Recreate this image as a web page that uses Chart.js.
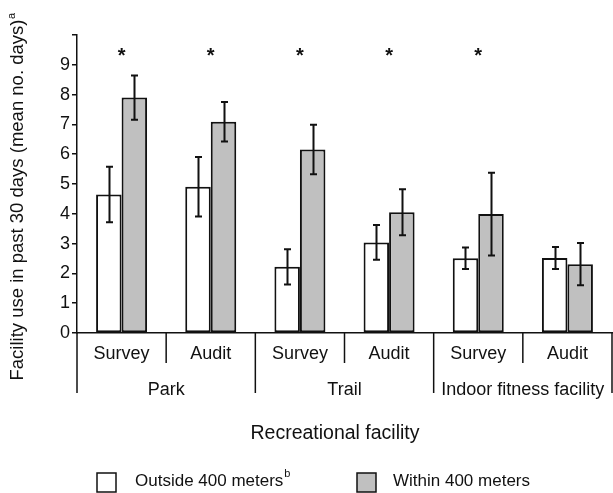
<!DOCTYPE html>
<html>
<head>
<meta charset="utf-8">
<script src="https://cdn.jsdelivr.net/npm/chart.js@4/dist/chart.umd.min.js"></script>
<style>
  html, body { margin: 0; padding: 0; background: #fff; }
  #wrap { width: 613px; height: 493px; position: relative; }
</style>
</head>
<body>
<div id="wrap"><canvas id="c" width="613" height="493"></canvas></div>
<script>
// ---- data ----
const categories = ['Survey', 'Audit', 'Survey', 'Audit', 'Survey', 'Audit'];
const groups = ['Park', 'Trail', 'Indoor fitness facility'];
const seriesNames = ['Outside 400 meters', 'Within 400 meters'];
const outsideValues = [4.65, 4.91, 2.22, 3.04, 2.51, 2.52];
const outsideErrors = [0.93, 1.00, 0.59, 0.58, 0.36, 0.37];
const withinValues = [7.90, 7.09, 6.16, 4.05, 3.99, 2.31];
const withinErrors = [0.74, 0.66, 0.83, 0.77, 1.39, 0.71];
const significant = [true, true, true, true, true, false];
const yTickValues = [0, 1, 2, 3, 4, 5, 6, 7, 8, 9, 10];
const yTickLabels = ['0', '1', '2', '3', '4', '5', '6', '7', '8', '9', ''];
const yTitle = 'Facility use in past 30 days (mean no. days)';
const xTitle = 'Recreational facility';

const FONT = '"Liberation Sans", Arial, sans-serif';
const INK = '#111';

const errorBars = {
  id: 'errorBars',
  afterDatasetsDraw(chart) {
    const ctx = chart.ctx;
    const y = chart.scales.y;
    const errs = [outsideErrors, withinErrors];
    const vals = [outsideValues, withinValues];
    ctx.save();
    ctx.strokeStyle = INK;
    ctx.lineWidth = 2;
    for (let d = 0; d < 2; d++) {
      const meta = chart.getDatasetMeta(d);
      meta.data.forEach((bar, i) => {
        const x = Math.round(bar.x) + 0.5;
        const yt = y.getPixelForValue(vals[d][i] + errs[d][i]);
        const yb = y.getPixelForValue(vals[d][i] - errs[d][i]);
        ctx.beginPath();
        ctx.moveTo(x, yt); ctx.lineTo(x, yb);
        ctx.moveTo(x - 3.5, yt); ctx.lineTo(x + 3.5, yt);
        ctx.moveTo(x - 3.5, yb); ctx.lineTo(x + 3.5, yb);
        ctx.stroke();
      });
    }
    ctx.restore();
  }
};

const decorations = {
  id: 'decorations',
  afterDraw(chart) {
    const ctx = chart.ctx;
    const xs = chart.scales.x;
    const ys = chart.scales.y;
    const area = chart.chartArea;
    const catW = (area.right - area.left) / categories.length;
    const base = ys.getPixelForValue(0);
    ctx.save();
    ctx.fillStyle = INK;
    ctx.strokeStyle = INK;
    ctx.lineWidth = 1.5;
    // separators below the axis
    for (let i = 0; i <= categories.length; i++) {
      const bx = area.left + i * catW;
      const long = (i % 2 === 0);
      ctx.beginPath();
      ctx.moveTo(bx, base);
      ctx.lineTo(bx, base + (long ? 60 : 30));
      ctx.stroke();
    }
    // category labels
    ctx.font = '18px ' + FONT;
    ctx.textAlign = 'center';
    ctx.textBaseline = 'middle';
    categories.forEach((c, i) => {
      ctx.fillText(c, xs.getPixelForValue(i), base + 21);
    });
    groups.forEach((g, k) => {
      const gx = area.left + (2 * k + 1) * catW;
      ctx.fillText(g, gx, base + 57);
    });
    // significance markers
    ctx.font = 'bold 20px ' + FONT;
    significant.forEach((s, i) => {
      if (s) ctx.fillText('*', xs.getPixelForValue(i), ys.getPixelForValue(9.42) + 4);
    });
    // x title
    ctx.font = '19.5px ' + FONT;
    ctx.fillText(xTitle, 335, base + 101);
    // y title (rotated) with superscript a
    ctx.save();
    ctx.translate(23, 197);
    ctx.rotate(-Math.PI / 2);
    ctx.font = '18.5px ' + FONT;
    const w1 = ctx.measureText(yTitle).width;
    ctx.font = '11px ' + FONT;
    const w2 = ctx.measureText('a').width;
    const start = -(w1 + w2) / 2;
    ctx.textAlign = 'left';
    ctx.textBaseline = 'alphabetic';
    ctx.font = '18.5px ' + FONT;
    ctx.fillText(yTitle, start, 0);
    ctx.font = '11px ' + FONT;
    ctx.fillText('a', start + w1 + 0.5, -8);
    ctx.restore();
    // legend
    const lg = [
      { x: 97, tx: 135, fill: '#ffffff', text: seriesNames[0], sup: 'b' },
      { x: 357, tx: 393, fill: '#c0c0c0', text: seriesNames[1], sup: '' }
    ];
    lg.forEach(l => {
      ctx.fillStyle = l.fill;
      ctx.fillRect(l.x, 473, 19, 19);
      ctx.lineWidth = 1.5;
      ctx.strokeStyle = INK;
      ctx.strokeRect(l.x, 473, 19, 19);
      ctx.fillStyle = INK;
      ctx.font = '17px ' + FONT;
      ctx.textAlign = 'left';
      ctx.textBaseline = 'middle';
      ctx.fillText(l.text, l.tx, 481);
      if (l.sup) {
        const tw = ctx.measureText(l.text).width;
        ctx.font = '11px ' + FONT;
        ctx.fillText(l.sup, l.tx + tw + 1, 474);
      }
    });
    ctx.restore();
  }
};

new Chart(document.getElementById('c'), {
  type: 'bar',
  data: {
    labels: categories,
    datasets: [
      { label: seriesNames[0], data: outsideValues, backgroundColor: '#ffffff', borderColor: INK, borderWidth: 2, borderSkipped: false },
      { label: seriesNames[1], data: withinValues, backgroundColor: '#c0c0c0', borderColor: INK, borderWidth: 2, borderSkipped: false }
    ]
  },
  options: {
    responsive: false,
    animation: false,
    devicePixelRatio: 1,
    layout: { padding: { left: 0, right: 1, top: 35, bottom: 0 } },
    plugins: { legend: { display: false }, tooltip: { enabled: false } },
    datasets: { bar: { categoryPercentage: 0.572, barPercentage: 1.0 } },
    scales: {
      x: {
        grid: { display: false },
        border: { display: true, color: INK, width: 1.5 },
        ticks: { display: false },
        afterFit(scale) { scale.height = 160; }
      },
      y: {
        min: 0, max: 10,
        afterBuildTicks(scale) { scale.ticks = yTickValues.map(v => ({ value: v })); },
        grid: { display: true, drawOnChartArea: false, drawTicks: true, tickLength: 5, color: INK, lineWidth: 1.5 },
        border: { display: true, color: INK, width: 1.5 },
        ticks: {
          color: INK,
          padding: 2,
          font: { family: FONT, size: 18 },
          callback: (v, i) => yTickLabels[i]
        },
        afterFit(scale) { scale.width = 77; }
      }
    }
  },
  plugins: [errorBars, decorations]
});
</script>
</body>
</html>
